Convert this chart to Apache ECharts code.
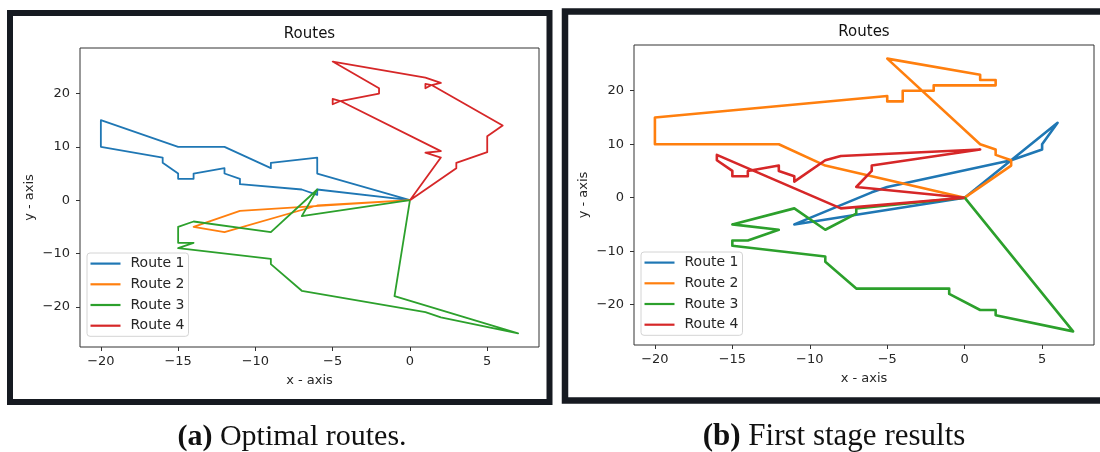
<!DOCTYPE html>
<html><head><meta charset="utf-8">
<script src="https://cdn.jsdelivr.net/npm/echarts@6/dist/echarts.min.js"></script>
<style>html,body{margin:0;padding:0;background:#fff}#c{width:1100px;height:452px}</style>
</head><body><div id="c"></div>
<script>
// ---------- data ----------
const routeNames = ['Route 1', 'Route 2', 'Route 3', 'Route 4'];
const xTicks = [-20, -15, -10, -5, 0, 5];
const yTicks = [-20, -10, 0, 10, 20];

// (a) Optimal routes
const optRoute1 = [[0,0],[-6,5],[-6,8],[-9,7],[-9,6],[-12,10],[-15,10],[-20,15],[-20,10],[-16,8],[-16,7],[-15,5],[-15,4],[-14,4],[-14,5],[-12,6],[-12,5],[-11,4],[-11,3],[-7,2],[-6,1],[-6,2],[0,0]];
const optRoute2 = [[0,0],[-11,-2],[-14,-5],[-12,-6],[-6,-1],[0,0]];
const optRoute3 = [[0,0],[-7,-3],[-6,2],[-9,-6],[-14,-4],[-15,-5],[-15,-8],[-14,-8],[-15,-9],[-9,-11],[-9,-12],[-7,-17],[1,-21],[2,-22],[7,-25],[-1,-18],[0,0]];
const optRoute4 = [[0,0],[2,8],[1,8.9],[2,9.2],[-4.5,18.6],[-5,18],[-5,19],[-4.5,18.6],[-2,20],[-2,21],[-5,26],[1,23],[2,22],[1.4,21.6],[1,21.8],[1,21],[1.4,21.6],[6,14],[5,12],[5,9],[3,7],[3,6],[0,0]];

// (b) First stage results
const firstRoute1 = [[0,0],[6,14],[5,10],[5,9],[3,7],[-5,2],[-6,1],[-11,-5],[0,0]];
const firstRoute2 = [[0,0],[3,6],[3,7],[2,8],[2,9],[1,10],[-5,26],[1,23],[1,22],[2,22],[2,21],[-2,21],[-2,20],[-4,20],[-4,18],[-5,18],[-5,19],[-20,15],[-20,10],[-12,10],[-9,6],[0,0]];
const firstRoute3 = [[0,0],[-7,-2],[-7,-3],[-9,-6],[-11,-2],[-15,-5],[-12,-6],[-14,-8],[-15,-8],[-15,-9],[-9,-11],[-9,-12],[-7,-17],[-1,-17],[-1,-18],[1,-21],[2,-21],[2,-22],[7,-25],[0,0]];
const firstRoute4 = [[0,0],[-7,2],[-6,5],[-6,6],[1,9],[-8,7.8],[-9,7],[-11,3],[-11,4],[-12,5],[-12,6],[-14,5],[-14,4],[-15,4],[-15,5],[-16,7],[-16,8],[-8,-2],[0,0]];

const chartTitle = 'Routes';
const xName = 'x - axis';
const yName = 'y - axis';
const captionA = ['(a)', 'Optimal routes.'];
const captionB = ['(b)', 'First stage results'];
// --------------------------------------------------

const colors = ['#1f77b4', '#ff7f0e', '#2ca02c', '#d62728'];
const SANS = 'DejaVu Sans';
const SERIF = 'Liberation Serif';
const fmt = v => v < 0 ? '\u2212' + (-v) : String(v);

function xAxis(gi) {
  return {
    type: 'value', gridIndex: gi, min: -21.35, max: 8.35, position: 'bottom',
    axisLine: {show: false, onZero: false}, splitLine: {show: false},
    axisTick: {show: true, length: 4, lineStyle: {color: '#333', width: 1}, customValues: xTicks},
    axisLabel: {customValues: xTicks, formatter: fmt, color: '#262626', fontSize: 13, fontFamily: SANS, margin: 8},
    name: xName, nameLocation: 'middle', nameGap: 27,
    nameTextStyle: {fontSize: 13, color: '#262626', fontFamily: SANS}
  };
}
function yAxis(gi) {
  return {
    type: 'value', gridIndex: gi, min: -27.55, max: 28.55, position: 'left',
    axisLine: {show: false, onZero: false}, splitLine: {show: false},
    axisTick: {show: true, length: 4, lineStyle: {color: '#333', width: 1}, customValues: yTicks},
    axisLabel: {customValues: yTicks, formatter: fmt, color: '#262626', fontSize: 13, fontFamily: SANS, margin: 10},
    name: yName, nameLocation: 'middle', nameGap: 44,
    nameTextStyle: {fontSize: 13, color: '#262626', fontFamily: SANS}
  };
}
function legend(left, top) {
  return {
    orient: 'vertical', left: left, top: top, data: routeNames,
    icon: 'rect', itemWidth: 30, itemHeight: 2.2, itemGap: 4.5,
    padding: [2.5, 4, 2.5, 3.5], borderColor: '#d4d4d4', borderWidth: 1, borderRadius: 3,
    backgroundColor: 'rgba(255,255,255,0.85)',
    formatter: '{t|{name}}',
    textStyle: {fontSize: 14, fontFamily: SANS, color: '#262626', lineHeight: 16.2,
      rich: {t: {padding: [0, 0, 0, 5], fontSize: 14, fontFamily: SANS, color: '#262626', lineHeight: 16.2}}},
    selectedMode: false
  };
}
function lineSeries(name, data, gi, ci, w) {
  return {
    type: 'line', name: name, data: data, xAxisIndex: gi, yAxisIndex: gi,
    color: colors[ci], symbol: 'none', showSymbol: false, animation: false,
    lineStyle: {width: w, color: colors[ci], join: 'round'}, silent: true
  };
}

const opt = [optRoute1, optRoute2, optRoute3, optRoute4];
const first = [firstRoute1, firstRoute2, firstRoute3, firstRoute4];
const series = [];
opt.forEach((d, i) => series.push(lineSeries(routeNames[i], d, 0, i, 1.8)));
first.forEach((d, i) => series.push(lineSeries(routeNames[i], d, 1, i, 2.6)));

const frameColor = '#161a21';
const chart = echarts.init(document.getElementById('c'), null, {renderer: 'canvas'});
chart.setOption({
  backgroundColor: '#ffffff',
  animation: false,
  grid: [
    {left: 80, top: 48, width: 459, height: 299, show: true, borderColor: '#333', borderWidth: 1, backgroundColor: 'transparent'},
    {left: 634, top: 45, width: 460, height: 300, show: true, borderColor: '#333', borderWidth: 1, backgroundColor: 'transparent'}
  ],
  xAxis: [xAxis(0), xAxis(1)],
  yAxis: [yAxis(0), yAxis(1)],
  legend: [legend(87, 253), legend(641, 252)],
  series: series,
  graphic: [
    {type: 'rect', shape: {x: 10, y: 13, width: 539.5, height: 389}, style: {fill: null, stroke: frameColor, lineWidth: 6}, z: 100},
    {type: 'rect', shape: {x: 565, y: 11.5, width: 545, height: 389}, style: {fill: null, stroke: frameColor, lineWidth: 6.5}, z: 100},
    {type: 'text', x: 309.5, y: 34, style: {text: chartTitle, fontSize: 15, fontFamily: SANS, fill: '#111', align: 'center', verticalAlign: 'middle'}},
    {type: 'text', x: 864, y: 32, style: {text: chartTitle, fontSize: 15, fontFamily: SANS, fill: '#111', align: 'center', verticalAlign: 'middle'}},
    {type: 'text', x: 292, y: 437, style: {text: '{b|' + captionA[0] + '} ' + captionA[1], fontSize: 30, fontFamily: SERIF, fill: '#111', align: 'center', verticalAlign: 'middle',
      rich: {b: {fontWeight: 'bold', fontSize: 30, fontFamily: SERIF, fill: '#111'}}}},
    {type: 'text', x: 834, y: 437, style: {text: '{b|' + captionB[0] + '} ' + captionB[1], fontSize: 31, fontFamily: SERIF, fill: '#111', align: 'center', verticalAlign: 'middle',
      rich: {b: {fontWeight: 'bold', fontSize: 31, fontFamily: SERIF, fill: '#111'}}}}
  ]
});
</script></body></html>
